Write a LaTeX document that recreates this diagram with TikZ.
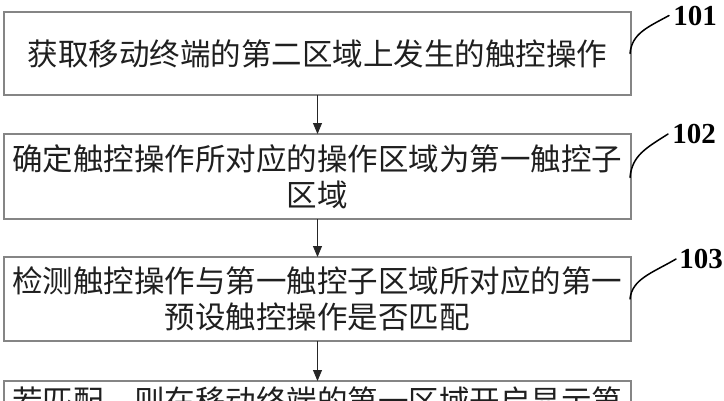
\documentclass[tikz,border=0pt]{standalone}
\usepackage{fontspec}
\newfontfamily\cjk{Noto Sans CJK SC}
\newfontfamily\lblfont{Liberation Serif}
\usetikzlibrary{arrows.meta}
\begin{document}
\begin{tikzpicture}[x=1pt,y=-1pt,
  stepbox/.style={draw=black!48, line width=1.3pt, rectangle, minimum width=627pt,
    inner sep=0pt, outer sep=0pt, align=center, text=black!88,
    font=\fontsize{30.5}{36}\selectfont\cjk},
  arr/.style={draw=black!85, line width=0.8pt, -{Triangle[length=11pt,width=9pt]}},
  lbl/.style={font=\fontsize{29}{30}\selectfont\lblfont\bfseries, inner sep=0pt, text=black},
  leader/.style={draw=black, line width=1.5pt, line cap=round}]
\useasboundingbox (0,0) rectangle (724,400);
\clip (0,0) rectangle (724,400);
\fill[white] (0,0) rectangle (724,400);

\node[stepbox, minimum height=83pt] (b1) at (317.5,53.5) {获取移动终端的第二区域上发生的触控操作};
\node[stepbox, minimum height=85pt] (b2) at (317.5,176.5) {确定触控操作所对应的操作区域为第一触控子\\区域};
\node[stepbox, minimum height=84pt] (b3) at (317.5,299) {检测触控操作与第一触控子区域所对应的第一\\预设触控操作是否匹配};
\node[stepbox, minimum height=84pt] (b4) at (317.5,423) {若匹配，则在移动终端的第一区域开启显示第\\\strut};

\draw[arr] (b1.south) -- (b2.north);
\draw[arr] (b2.south) -- (b3.north);
\draw[arr] (b3.south) -- (b4.north);

\node[lbl] (l101) at (695,15.5) {101};
\node[lbl] (l102) at (694,134) {102};
\node[lbl] (l103) at (701,259) {103};

\coordinate (c101) at ([xshift=-4pt]l101.west);
\coordinate (c102) at ([xshift=-4pt]l102.west);
\coordinate (c103) at ([xshift=-3pt]l103.west);

\draw[leader] ([xshift=-1pt]b1.east) .. controls +(2,-20) and +(-22,12) .. (c101);
\draw[leader] ([yshift=-1pt,xshift=-1pt]b2.east) .. controls +(2,-22) and +(-22,14) .. (c102);
\draw[leader] ([xshift=-1pt]b3.east) .. controls +(2,-20) and +(-24,14) .. (c103);
\end{tikzpicture}
\end{document}
